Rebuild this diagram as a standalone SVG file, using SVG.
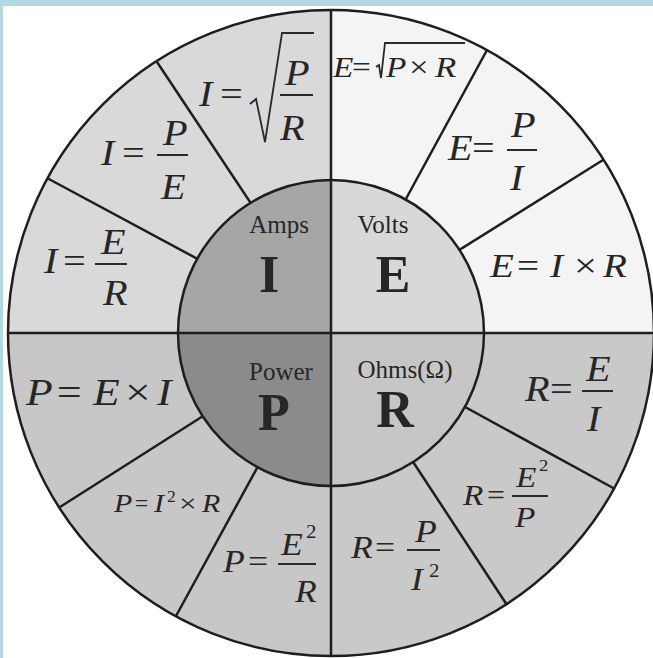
<svg xmlns="http://www.w3.org/2000/svg" width="653" height="658" viewBox="0 0 653 658">
<style>
.f{font-family:"Liberation Serif","Times New Roman",serif;font-style:italic;fill:#262626}
.o{font-family:"Liberation Serif","Times New Roman",serif;fill:#262626}
.c{font-family:"Liberation Serif","Times New Roman",serif;fill:#262626;text-anchor:middle}
.b{font-weight:bold}
.ln{stroke:#1e1e1e;stroke-width:2.5;fill:none}
.bar{stroke:#2a2a2a;stroke-width:2;fill:none}
.rad{stroke:#2a2a2a;stroke-width:1.8;fill:none;stroke-linejoin:miter}
</style>
<rect x="0" y="0" width="653" height="658" fill="#b3d8e4"/>
<rect x="3" y="6" width="650" height="652" fill="#ffffff"/>
<g id="outer-ring">
<path d="M331,333 L8,333 A323,323 0 0 1 331,10 Z" fill="#d9d9d9"/>
<path d="M331,333 L331,10 A323,323 0 0 1 654,333 Z" fill="#f4f4f4"/>
<path d="M331,333 L654,333 A323,323 0 0 1 331,656 Z" fill="#c9c9c9"/>
<path d="M331,333 L331,656 A323,323 0 0 1 8,333 Z" fill="#c7c7c7"/>
</g>
<g id="spokes">
<line class="ln" x1="157" y1="62" x2="262" y2="220"/>
<line class="ln" x1="487" y1="50" x2="395" y2="219"/>
<line class="ln" x1="47" y1="178" x2="220" y2="271"/>
<line class="ln" x1="603" y1="160" x2="440" y2="262"/>
<line class="ln" x1="60" y1="507" x2="222" y2="404"/>
<line class="ln" x1="176" y1="616" x2="268" y2="448"/>
<line class="ln" x1="615" y1="489" x2="445" y2="396"/>
<line class="ln" x1="507" y1="605" x2="400" y2="442"/>
</g>
<g id="hub">
<path d="M331,333 L178,333 A153,153 0 0 1 331,180 Z" fill="#a6a6a6"/>
<path d="M331,333 L331,180 A153,153 0 0 1 484,333 Z" fill="#d8d8d8"/>
<path d="M331,333 L484,333 A153,153 0 0 1 331,486 Z" fill="#c6c6c6"/>
<path d="M331,333 L331,486 A153,153 0 0 1 178,333 Z" fill="#8b8b8b"/>
<circle class="ln" cx="331" cy="333" r="153"/>
</g>
<g id="axes">
<line class="ln" x1="8" y1="333" x2="654" y2="333"/>
<line class="ln" x1="331" y1="10" x2="331" y2="656"/>
<circle class="ln" cx="331" cy="333" r="323"/>
</g>
<g id="node-amps"><text class="c" x="279" y="233" font-size="25">Amps</text><text class="c b" x="269" y="292" font-size="52">I</text></g>
<g id="node-volts"><text class="c" x="383" y="233" font-size="25">Volts</text><text class="c b" x="393" y="292" font-size="52">E</text></g>
<g id="node-power"><text class="c" x="281" y="380" font-size="25">Power</text><text class="c b" x="274" y="430" font-size="52">P</text></g>
<g id="node-ohms"><text class="c" x="405" y="378" font-size="25">Ohms(Ω)</text><text class="c b" x="395" y="427" font-size="52">R</text></g>

<g id="f-i-sqrt" font-size="35">
<text class="f" transform="translate(199 106) scale(1.15 1)">I</text>
<text class="o" transform="translate(220 106) scale(1.15 1)">=</text>
<path class="rad" d="M250,104 L256,99 L265,142 L282,33 L314,33"/>
<text class="f" transform="translate(285 85) scale(1.15 1)">P</text>
<line class="bar" x1="280" y1="95" x2="313" y2="95"/>
<text class="f" transform="translate(280 140) scale(1.15 1)">R</text>
</g>
<g id="f-e-sqrt" font-size="29">
<text class="f" transform="translate(333 77) scale(1.15 1)">E</text>
<text class="o" transform="translate(352 77) scale(1.15 1)">=</text>
<path class="rad" d="M376,67 L379,65 L381,78 L385,43 L465,43"/>
<text class="f" transform="translate(386 77) scale(1.15 1)">P</text>
<text class="o" transform="translate(409 77) scale(1.2 1)">×</text>
<text class="f" transform="translate(435 77) scale(1.2 1)">R</text>
</g>
<g id="f-i-pe" font-size="35">
<text class="f" transform="translate(101 165) scale(1.15 1)">I</text>
<text class="o" transform="translate(122 165) scale(1.15 1)">=</text>
<text class="f" transform="translate(163 145) scale(1.15 1)">P</text>
<line class="bar" x1="157" y1="155" x2="188" y2="155"/>
<text class="f" transform="translate(161 199) scale(1.15 1)">E</text>
</g>
<g id="f-i-er" font-size="35">
<text class="f" transform="translate(44 273) scale(1.15 1)">I</text>
<text class="o" transform="translate(63 273) scale(1.15 1)">=</text>
<text class="f" transform="translate(101 254) scale(1.15 1)">E</text>
<line class="bar" x1="95" y1="264" x2="127" y2="264"/>
<text class="f" transform="translate(103 305) scale(1.15 1)">R</text>
</g>
<g id="f-e-pi" font-size="35">
<text class="f" transform="translate(448 160) scale(1.15 1)">E</text>
<text class="o" transform="translate(472 160) scale(1.15 1)">=</text>
<text class="f" transform="translate(511 137) scale(1.15 1)">P</text>
<line class="bar" x1="507" y1="150" x2="537" y2="150"/>
<text class="f" transform="translate(510 190) scale(1.15 1)">I</text>
</g>
<g id="f-e-ir" font-size="34">
<text class="f" transform="translate(490 277) scale(1.15 1)">E</text>
<text class="o" transform="translate(517 277) scale(1.15 1)">=</text>
<text class="f" transform="translate(550 277) scale(1.15 1)">I</text>
<text class="o" transform="translate(574 277) scale(1.2 1)">×</text>
<text class="f" transform="translate(603 277) scale(1.15 1)">R</text>
</g>
<g id="f-p-ei" font-size="38">
<text class="f" transform="translate(26 405) scale(1.15 1)">P</text>
<text class="o" transform="translate(57 405) scale(1.15 1)">=</text>
<text class="f" transform="translate(93 405) scale(1.15 1)">E</text>
<text class="o" transform="translate(125 405) scale(1.2 1)">×</text>
<text class="f" transform="translate(157 405) scale(1.15 1)">I</text>
</g>
<g id="f-p-i2r" font-size="26">
<text class="f" transform="translate(114 512) scale(1.15 1)">P</text>
<text class="o" transform="translate(135 512) scale(0.9 1)">=</text>
<text class="f" transform="translate(154 512) scale(1.15 1)">I</text>
<text class="o" transform="translate(167 502) scale(1.1 1)" font-size="16">2</text>
<text class="o" transform="translate(179 512) scale(1.2 1)">×</text>
<text class="f" transform="translate(202 512) scale(1.15 1)">R</text>
</g>
<g id="f-p-e2r" font-size="31">
<text class="f" transform="translate(223 572) scale(1.15 1)">P</text>
<text class="o" transform="translate(248 572) scale(1.15 1)">=</text>
<text class="f" transform="translate(281 555) scale(1.15 1)">E</text>
<text class="o" transform="translate(306 538) scale(1.1 1)" font-size="19">2</text>
<line class="bar" x1="278" y1="564" x2="316" y2="564"/>
<text class="f" transform="translate(295 602) scale(1.15 1)">R</text>
</g>
<g id="f-r-pi2" font-size="31">
<text class="f" transform="translate(351 558) scale(1.15 1)">R</text>
<text class="o" transform="translate(375 558) scale(1.15 1)">=</text>
<text class="f" transform="translate(415 542) scale(1.15 1)">P</text>
<line class="bar" x1="407" y1="550" x2="440" y2="550"/>
<text class="f" transform="translate(411 590) scale(1.15 1)">I</text>
<text class="o" transform="translate(429 577) scale(1.1 1)" font-size="19">2</text>
</g>
<g id="f-r-e2p" font-size="29">
<text class="f" transform="translate(463 505) scale(1.15 1)">R</text>
<text class="o" transform="translate(487 505) scale(1.1 1)">=</text>
<text class="f" transform="translate(516 487) scale(1.15 1)">E</text>
<text class="o" transform="translate(539 471) scale(1.1 1)" font-size="17">2</text>
<line class="bar" x1="512" y1="496" x2="548" y2="496"/>
<text class="f" transform="translate(515 527) scale(1.15 1)">P</text>
</g>
<g id="f-r-ei" font-size="35">
<text class="f" transform="translate(525 401) scale(1.15 1)">R</text>
<text class="o" transform="translate(550 401) scale(1.15 1)">=</text>
<text class="f" transform="translate(586 381) scale(1.15 1)">E</text>
<line class="bar" x1="582" y1="391" x2="613" y2="391"/>
<text class="f" transform="translate(587 431) scale(1.15 1)">I</text>
</g>
</svg>
